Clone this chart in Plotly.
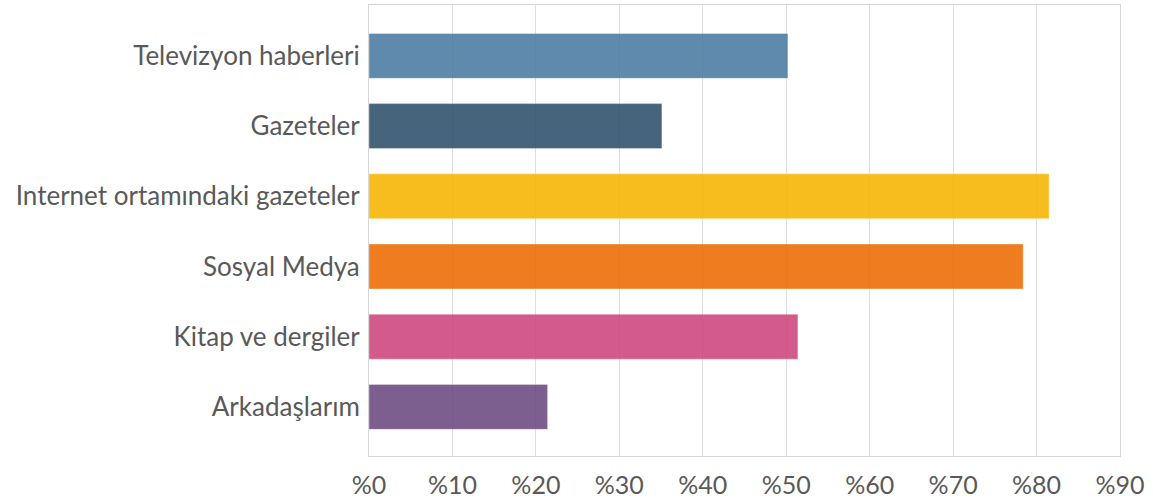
import plotly.graph_objects as go

categories = ["Televizyon haberleri", "Gazeteler", "Internet ortamındaki gazeteler",
              "Sosyal Medya", "Kitap ve dergiler", "Arkadaşlarım"]
values = [50.2, 35.1, 81.5, 78.4, 51.4, 21.4]
bar_colors_rgb = [(96, 138, 171), (70, 100, 125), (247, 190, 22),
                  (239, 125, 26), (212, 91, 140), (124, 94, 143)]
tick_vals = [0, 10, 20, 30, 40, 50, 60, 70, 80, 90]
tick_text = ["%0", "%10", "%20", "%30", "%40", "%50", "%60", "%70", "%80", "%90"]

ALPHA = 0.88

def src_color(rgb, a=ALPHA):
    c = [max(0, min(255, round((v - (1 - a) * 255) / a))) for v in rgb]
    return "rgb({},{},{})".format(*c)

colors = [src_color(c) for c in bar_colors_rgb]

fig = go.Figure(go.Bar(
    x=values,
    y=list(range(len(categories))),
    orientation="h",
    width=0.64,
    marker=dict(color=colors, opacity=ALPHA,
                line=dict(color="rgba(255,255,255,0.35)", width=1)),
    hoverinfo="x+y",
))

fig.update_layout(
    width=1153, height=503,
    margin=dict(l=369, r=33, t=4, b=43),
    plot_bgcolor="white", paper_bgcolor="white",
    showlegend=False,
    font=dict(family="Lato", color="#595959"),
)
fig.update_xaxes(
    range=[0, 90], tickvals=tick_vals, ticktext=tick_text,
    showgrid=True, gridcolor="#dedede", gridwidth=1,
    showline=True, linecolor="#d6d6d6", mirror=True, linewidth=1,
    zeroline=False, ticks="", tickfont=dict(size=25, family="Lato", color="#595959"),
    ticklabelstandoff=7,
)
fig.update_yaxes(
    tickvals=list(range(len(categories))), ticktext=categories,
    range=[5.70, -0.725],
    showgrid=False, showline=True, linecolor="#d6d6d6", mirror=True, linewidth=1,
    zeroline=False, ticks="", tickfont=dict(size=26, family="Lato", color="#595959"),
    ticklabelstandoff=3,
)

fig.write_html("out.html")
